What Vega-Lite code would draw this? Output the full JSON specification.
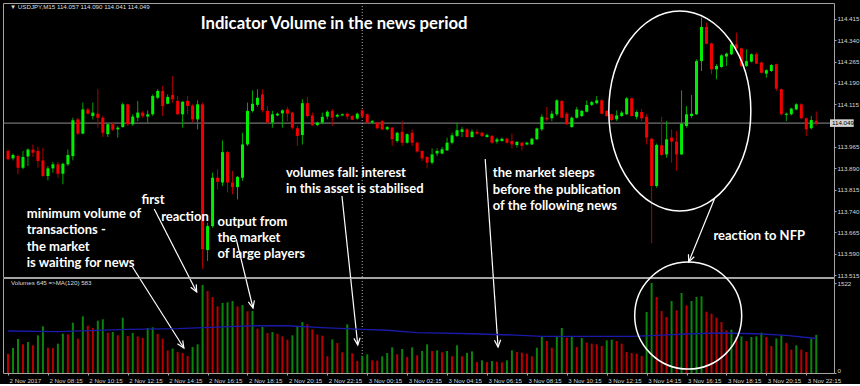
{
"$schema":"https://vega.github.io/schema/vega-lite/v6.json",
"background":"#000000",
"padding":{"left":2,"top":2,"right":0,"bottom":0},
"config":{"view":{"stroke":"#a4a4a4","strokeWidth":1,"fill":null},"concat":{"spacing":1}},
"spacing":1,
"bounds":"flush",
"datasets":{
"bars":[
{"t":"2017-11-02T06:15","o":113.951,"h":113.957,"l":113.918,"c":113.922,"v":327,"vd":"dn"},
{"t":"2017-11-02T06:30","o":113.925,"h":113.942,"l":113.918,"c":113.937,"v":423,"vd":"up"},
{"t":"2017-11-02T06:45","o":113.933,"h":113.939,"l":113.869,"c":113.892,"v":575,"vd":"up"},
{"t":"2017-11-02T07:00","o":113.892,"h":113.951,"l":113.887,"c":113.930,"v":485,"vd":"dn"},
{"t":"2017-11-02T07:15","o":113.932,"h":113.960,"l":113.898,"c":113.956,"v":524,"vd":"up"},
{"t":"2017-11-02T07:30","o":113.956,"h":113.974,"l":113.930,"c":113.945,"v":468,"vd":"dn"},
{"t":"2017-11-02T07:45","o":113.951,"h":113.965,"l":113.892,"c":113.916,"v":637,"vd":"up"},
{"t":"2017-11-02T08:00","o":113.918,"h":113.963,"l":113.860,"c":113.863,"v":789,"vd":"up"},
{"t":"2017-11-02T08:15","o":113.863,"h":113.898,"l":113.848,"c":113.890,"v":428,"vd":"dn"},
{"t":"2017-11-02T08:30","o":113.890,"h":113.913,"l":113.875,"c":113.904,"v":420,"vd":"dn"},
{"t":"2017-11-02T08:45","o":113.904,"h":113.913,"l":113.857,"c":113.871,"v":496,"vd":"up"},
{"t":"2017-11-02T09:00","o":113.871,"h":113.910,"l":113.834,"c":113.906,"v":665,"vd":"up"},
{"t":"2017-11-02T09:15","o":113.904,"h":113.956,"l":113.898,"c":113.937,"v":654,"vd":"dn"},
{"t":"2017-11-02T09:30","o":113.933,"h":114.068,"l":113.918,"c":114.059,"v":851,"vd":"up"},
{"t":"2017-11-02T09:45","o":114.062,"h":114.068,"l":114.007,"c":114.012,"v":581,"vd":"dn"},
{"t":"2017-11-02T10:00","o":114.012,"h":114.121,"l":114.010,"c":114.097,"v":958,"vd":"up"},
{"t":"2017-11-02T10:15","o":114.097,"h":114.103,"l":114.080,"c":114.082,"v":800,"vd":"dn"},
{"t":"2017-11-02T10:30","o":114.074,"h":114.121,"l":114.062,"c":114.086,"v":761,"vd":"dn"},
{"t":"2017-11-02T10:45","o":114.082,"h":114.168,"l":114.033,"c":114.068,"v":885,"vd":"up"},
{"t":"2017-11-02T11:00","o":114.068,"h":114.074,"l":114.000,"c":114.015,"v":908,"vd":"up"},
{"t":"2017-11-02T11:15","o":114.010,"h":114.051,"l":114.000,"c":114.045,"v":682,"vd":"dn"},
{"t":"2017-11-02T11:30","o":114.045,"h":114.051,"l":114.021,"c":114.026,"v":693,"vd":"up"},
{"t":"2017-11-02T11:45","o":114.027,"h":114.039,"l":113.998,"c":114.033,"v":637,"vd":"dn"},
{"t":"2017-11-02T12:00","o":114.035,"h":114.121,"l":114.033,"c":114.115,"v":936,"vd":"up"},
{"t":"2017-11-02T12:15","o":114.115,"h":114.117,"l":114.039,"c":114.045,"v":626,"vd":"dn"},
{"t":"2017-11-02T12:30","o":114.045,"h":114.080,"l":114.039,"c":114.072,"v":676,"vd":"up"},
{"t":"2017-11-02T12:45","o":114.068,"h":114.127,"l":114.056,"c":114.086,"v":620,"vd":"dn"},
{"t":"2017-11-02T13:00","o":114.086,"h":114.092,"l":114.068,"c":114.074,"v":592,"vd":"dn"},
{"t":"2017-11-02T13:15","o":114.072,"h":114.094,"l":114.051,"c":114.080,"v":761,"vd":"up"},
{"t":"2017-11-02T13:30","o":114.080,"h":114.150,"l":114.074,"c":114.144,"v":772,"vd":"up"},
{"t":"2017-11-02T13:45","o":114.138,"h":114.168,"l":114.133,"c":114.162,"v":660,"vd":"dn"},
{"t":"2017-11-02T14:00","o":114.162,"h":114.180,"l":114.074,"c":114.109,"v":581,"vd":"dn"},
{"t":"2017-11-02T14:15","o":114.117,"h":114.150,"l":114.115,"c":114.141,"v":383,"vd":"dn"},
{"t":"2017-11-02T14:30","o":114.148,"h":114.215,"l":114.121,"c":114.133,"v":412,"vd":"up"},
{"t":"2017-11-02T14:45","o":114.127,"h":114.144,"l":114.078,"c":114.080,"v":355,"vd":"dn"},
{"t":"2017-11-02T15:00","o":114.080,"h":114.127,"l":114.033,"c":114.124,"v":338,"vd":"dn"},
{"t":"2017-11-02T15:15","o":114.127,"h":114.144,"l":114.080,"c":114.109,"v":287,"vd":"dn"},
{"t":"2017-11-02T15:30","o":114.111,"h":114.115,"l":114.051,"c":114.062,"v":440,"vd":"up"},
{"t":"2017-11-02T15:45","o":114.062,"h":114.129,"l":114.027,"c":114.115,"v":485,"vd":"up"},
{"t":"2017-11-02T16:00","o":114.115,"h":114.121,"l":113.536,"c":113.606,"v":1488,"vd":"up"},
{"t":"2017-11-02T16:15","o":113.603,"h":113.699,"l":113.564,"c":113.687,"v":1387,"vd":"dn"},
{"t":"2017-11-02T16:30","o":113.687,"h":113.875,"l":113.681,"c":113.857,"v":1285,"vd":"dn"},
{"t":"2017-11-02T16:45","o":113.857,"h":113.887,"l":113.816,"c":113.843,"v":1127,"vd":"dn"},
{"t":"2017-11-02T17:00","o":113.840,"h":113.988,"l":113.828,"c":113.947,"v":1184,"vd":"up"},
{"t":"2017-11-02T17:15","o":113.947,"h":113.951,"l":113.805,"c":113.840,"v":1195,"vd":"up"},
{"t":"2017-11-02T17:30","o":113.840,"h":113.881,"l":113.799,"c":113.824,"v":1218,"vd":"up"},
{"t":"2017-11-02T17:45","o":113.824,"h":113.863,"l":113.781,"c":113.860,"v":1127,"vd":"dn"},
{"t":"2017-11-02T18:00","o":113.857,"h":114.015,"l":113.846,"c":113.974,"v":1150,"vd":"up"},
{"t":"2017-11-02T18:15","o":113.974,"h":114.121,"l":113.969,"c":114.092,"v":1043,"vd":"dn"},
{"t":"2017-11-02T18:30","o":114.092,"h":114.164,"l":114.086,"c":114.117,"v":1048,"vd":"up"},
{"t":"2017-11-02T18:45","o":114.113,"h":114.168,"l":114.106,"c":114.138,"v":750,"vd":"dn"},
{"t":"2017-11-02T19:00","o":114.150,"h":114.168,"l":114.086,"c":114.094,"v":778,"vd":"up"},
{"t":"2017-11-02T19:15","o":114.092,"h":114.109,"l":114.045,"c":114.051,"v":676,"vd":"dn"},
{"t":"2017-11-02T19:30","o":114.051,"h":114.092,"l":114.033,"c":114.080,"v":693,"vd":"up"},
{"t":"2017-11-02T19:45","o":114.076,"h":114.086,"l":114.073,"c":114.082,"v":665,"vd":"dn"},
{"t":"2017-11-02T20:00","o":114.083,"h":114.097,"l":114.033,"c":114.094,"v":620,"vd":"dn"},
{"t":"2017-11-02T20:15","o":114.097,"h":114.106,"l":114.056,"c":114.082,"v":564,"vd":"dn"},
{"t":"2017-11-02T20:30","o":114.086,"h":114.089,"l":114.027,"c":114.033,"v":637,"vd":"up"},
{"t":"2017-11-02T20:45","o":114.031,"h":114.039,"l":113.969,"c":114.004,"v":778,"vd":"up"},
{"t":"2017-11-02T21:00","o":114.007,"h":114.133,"l":113.974,"c":114.119,"v":862,"vd":"up"},
{"t":"2017-11-02T21:15","o":114.119,"h":114.141,"l":114.068,"c":114.074,"v":823,"vd":"dn"},
{"t":"2017-11-02T21:30","o":114.076,"h":114.086,"l":114.039,"c":114.042,"v":738,"vd":"dn"},
{"t":"2017-11-02T21:45","o":114.042,"h":114.054,"l":114.039,"c":114.051,"v":654,"vd":"dn"},
{"t":"2017-11-02T22:00","o":114.051,"h":114.086,"l":114.045,"c":114.071,"v":631,"vd":"dn"},
{"t":"2017-11-02T22:15","o":114.072,"h":114.094,"l":114.062,"c":114.089,"v":282,"vd":"dn"},
{"t":"2017-11-02T22:30","o":114.092,"h":114.099,"l":114.039,"c":114.068,"v":569,"vd":"up"},
{"t":"2017-11-02T22:45","o":114.072,"h":114.082,"l":114.068,"c":114.078,"v":507,"vd":"dn"},
{"t":"2017-11-02T23:00","o":114.076,"h":114.083,"l":114.073,"c":114.080,"v":349,"vd":"dn"},
{"t":"2017-11-02T23:15","o":114.082,"h":114.086,"l":114.062,"c":114.072,"v":823,"vd":"up"},
{"t":"2017-11-02T23:30","o":114.074,"h":114.078,"l":114.059,"c":114.061,"v":333,"vd":"dn"},
{"t":"2017-11-02T23:45","o":114.065,"h":114.086,"l":114.061,"c":114.082,"v":203,"vd":"dn"},
{"t":"2017-11-03T00:00","o":114.094,"h":114.097,"l":114.068,"c":114.072,"v":293,"vd":"up"},
{"t":"2017-11-03T00:15","o":114.080,"h":114.083,"l":114.047,"c":114.051,"v":316,"vd":"up"},
{"t":"2017-11-03T00:30","o":114.051,"h":114.060,"l":114.047,"c":114.056,"v":214,"vd":"dn"},
{"t":"2017-11-03T00:45","o":114.051,"h":114.054,"l":114.027,"c":114.031,"v":209,"vd":"dn"},
{"t":"2017-11-03T01:00","o":114.056,"h":114.060,"l":114.024,"c":114.027,"v":282,"vd":"up"},
{"t":"2017-11-03T01:15","o":114.027,"h":114.039,"l":114.024,"c":114.035,"v":338,"vd":"up"},
{"t":"2017-11-03T01:30","o":114.033,"h":114.035,"l":113.969,"c":113.992,"v":434,"vd":"up"},
{"t":"2017-11-03T01:45","o":113.986,"h":114.019,"l":113.980,"c":114.015,"v":316,"vd":"dn"},
{"t":"2017-11-03T02:00","o":114.018,"h":114.056,"l":113.969,"c":113.980,"v":406,"vd":"up"},
{"t":"2017-11-03T02:15","o":113.980,"h":114.013,"l":113.977,"c":114.010,"v":271,"vd":"dn"},
{"t":"2017-11-03T02:30","o":114.015,"h":114.027,"l":113.969,"c":113.980,"v":434,"vd":"up"},
{"t":"2017-11-03T02:45","o":113.980,"h":113.984,"l":113.945,"c":113.949,"v":299,"vd":"dn"},
{"t":"2017-11-03T03:00","o":113.951,"h":113.953,"l":113.916,"c":113.925,"v":372,"vd":"up"},
{"t":"2017-11-03T03:15","o":113.930,"h":113.933,"l":113.890,"c":113.910,"v":485,"vd":"up"},
{"t":"2017-11-03T03:30","o":113.910,"h":113.960,"l":113.904,"c":113.939,"v":372,"vd":"dn"},
{"t":"2017-11-03T03:45","o":113.942,"h":113.960,"l":113.933,"c":113.951,"v":383,"vd":"up"},
{"t":"2017-11-03T04:00","o":113.942,"h":113.965,"l":113.939,"c":113.957,"v":349,"vd":"dn"},
{"t":"2017-11-03T04:15","o":113.953,"h":113.998,"l":113.951,"c":113.980,"v":372,"vd":"up"},
{"t":"2017-11-03T04:30","o":113.980,"h":114.015,"l":113.974,"c":114.006,"v":282,"vd":"dn"},
{"t":"2017-11-03T04:45","o":114.004,"h":114.051,"l":114.000,"c":114.024,"v":468,"vd":"up"},
{"t":"2017-11-03T05:00","o":114.018,"h":114.035,"l":114.000,"c":114.027,"v":282,"vd":"dn"},
{"t":"2017-11-03T05:15","o":114.027,"h":114.031,"l":113.998,"c":114.000,"v":338,"vd":"up"},
{"t":"2017-11-03T05:30","o":114.000,"h":114.027,"l":113.998,"c":114.019,"v":366,"vd":"up"},
{"t":"2017-11-03T05:45","o":114.018,"h":114.027,"l":114.007,"c":114.012,"v":186,"vd":"dn"},
{"t":"2017-11-03T06:00","o":114.015,"h":114.019,"l":114.000,"c":114.004,"v":214,"vd":"up"},
{"t":"2017-11-03T06:15","o":114.000,"h":114.012,"l":113.998,"c":114.007,"v":186,"vd":"dn"},
{"t":"2017-11-03T06:30","o":114.004,"h":114.007,"l":113.977,"c":113.980,"v":203,"vd":"up"},
{"t":"2017-11-03T06:45","o":113.984,"h":113.998,"l":113.977,"c":113.992,"v":192,"vd":"dn"},
{"t":"2017-11-03T07:00","o":113.986,"h":113.998,"l":113.984,"c":113.994,"v":180,"vd":"dn"},
{"t":"2017-11-03T07:15","o":113.994,"h":113.998,"l":113.977,"c":113.980,"v":214,"vd":"up"},
{"t":"2017-11-03T07:30","o":113.986,"h":114.012,"l":113.960,"c":113.974,"v":383,"vd":"up"},
{"t":"2017-11-03T07:45","o":113.972,"h":113.986,"l":113.963,"c":113.983,"v":355,"vd":"dn"},
{"t":"2017-11-03T08:00","o":113.980,"h":113.984,"l":113.953,"c":113.969,"v":344,"vd":"dn"},
{"t":"2017-11-03T08:15","o":113.974,"h":113.984,"l":113.971,"c":113.980,"v":327,"vd":"dn"},
{"t":"2017-11-03T08:30","o":113.974,"h":113.998,"l":113.972,"c":113.994,"v":282,"vd":"dn"},
{"t":"2017-11-03T08:45","o":113.992,"h":114.033,"l":113.990,"c":114.030,"v":428,"vd":"up"},
{"t":"2017-11-03T09:00","o":114.027,"h":114.080,"l":114.021,"c":114.071,"v":620,"vd":"up"},
{"t":"2017-11-03T09:15","o":114.068,"h":114.106,"l":114.056,"c":114.062,"v":541,"vd":"dn"},
{"t":"2017-11-03T09:30","o":114.066,"h":114.092,"l":114.056,"c":114.082,"v":428,"vd":"dn"},
{"t":"2017-11-03T09:45","o":114.080,"h":114.133,"l":114.074,"c":114.129,"v":609,"vd":"up"},
{"t":"2017-11-03T10:00","o":114.127,"h":114.129,"l":114.066,"c":114.068,"v":761,"vd":"up"},
{"t":"2017-11-03T10:15","o":114.082,"h":114.089,"l":114.042,"c":114.045,"v":598,"vd":"dn"},
{"t":"2017-11-03T10:30","o":114.035,"h":114.072,"l":114.033,"c":114.068,"v":609,"vd":"up"},
{"t":"2017-11-03T10:45","o":114.068,"h":114.106,"l":114.065,"c":114.097,"v":440,"vd":"dn"},
{"t":"2017-11-03T11:00","o":114.074,"h":114.095,"l":114.070,"c":114.092,"v":592,"vd":"up"},
{"t":"2017-11-03T11:15","o":114.089,"h":114.129,"l":114.086,"c":114.113,"v":513,"vd":"dn"},
{"t":"2017-11-03T11:30","o":114.113,"h":114.127,"l":114.109,"c":114.123,"v":496,"vd":"dn"},
{"t":"2017-11-03T11:45","o":114.119,"h":114.144,"l":114.115,"c":114.129,"v":485,"vd":"dn"},
{"t":"2017-11-03T12:00","o":114.129,"h":114.133,"l":114.080,"c":114.082,"v":457,"vd":"dn"},
{"t":"2017-11-03T12:15","o":114.092,"h":114.094,"l":114.072,"c":114.074,"v":552,"vd":"up"},
{"t":"2017-11-03T12:30","o":114.080,"h":114.082,"l":114.056,"c":114.060,"v":564,"vd":"up"},
{"t":"2017-11-03T12:45","o":114.062,"h":114.094,"l":114.056,"c":114.076,"v":541,"vd":"dn"},
{"t":"2017-11-03T13:00","o":114.074,"h":114.092,"l":114.071,"c":114.086,"v":496,"vd":"dn"},
{"t":"2017-11-03T13:15","o":114.080,"h":114.141,"l":114.078,"c":114.136,"v":355,"vd":"dn"},
{"t":"2017-11-03T13:30","o":114.136,"h":114.138,"l":114.072,"c":114.074,"v":338,"vd":"dn"},
{"t":"2017-11-03T13:45","o":114.071,"h":114.094,"l":114.062,"c":114.088,"v":327,"vd":"dn"},
{"t":"2017-11-03T14:00","o":114.088,"h":114.099,"l":114.056,"c":114.066,"v":287,"vd":"dn"},
{"t":"2017-11-03T14:15","o":114.071,"h":114.080,"l":113.974,"c":113.998,"v":1032,"vd":"up"},
{"t":"2017-11-03T14:30","o":113.994,"h":113.998,"l":113.627,"c":113.828,"v":1522,"vd":"up"},
{"t":"2017-11-03T14:45","o":113.828,"h":113.977,"l":113.822,"c":113.972,"v":1285,"vd":"dn"},
{"t":"2017-11-03T15:00","o":113.971,"h":114.071,"l":113.933,"c":113.937,"v":1048,"vd":"dn"},
{"t":"2017-11-03T15:15","o":113.939,"h":114.056,"l":113.927,"c":113.992,"v":947,"vd":"dn"},
{"t":"2017-11-03T15:30","o":113.998,"h":114.027,"l":113.910,"c":113.984,"v":1218,"vd":"up"},
{"t":"2017-11-03T15:45","o":113.984,"h":114.021,"l":113.881,"c":113.939,"v":1060,"vd":"dn"},
{"t":"2017-11-03T16:00","o":113.939,"h":114.164,"l":113.937,"c":114.047,"v":1353,"vd":"up"},
{"t":"2017-11-03T16:15","o":114.039,"h":114.109,"l":114.033,"c":114.080,"v":1144,"vd":"dn"},
{"t":"2017-11-03T16:30","o":114.074,"h":114.148,"l":114.068,"c":114.082,"v":1218,"vd":"up"},
{"t":"2017-11-03T16:45","o":114.080,"h":114.273,"l":114.078,"c":114.267,"v":1285,"vd":"up"},
{"t":"2017-11-03T17:00","o":114.267,"h":114.420,"l":114.232,"c":114.387,"v":1297,"vd":"up"},
{"t":"2017-11-03T17:15","o":114.387,"h":114.402,"l":114.326,"c":114.328,"v":1037,"vd":"dn"},
{"t":"2017-11-03T17:30","o":114.329,"h":114.332,"l":114.221,"c":114.238,"v":1003,"vd":"dn"},
{"t":"2017-11-03T17:45","o":114.238,"h":114.256,"l":114.203,"c":114.250,"v":936,"vd":"dn"},
{"t":"2017-11-03T18:00","o":114.246,"h":114.291,"l":114.244,"c":114.287,"v":862,"vd":"dn"},
{"t":"2017-11-03T18:15","o":114.283,"h":114.297,"l":114.250,"c":114.293,"v":722,"vd":"dn"},
{"t":"2017-11-03T18:30","o":114.291,"h":114.332,"l":114.288,"c":114.326,"v":733,"vd":"up"},
{"t":"2017-11-03T18:45","o":114.326,"h":114.367,"l":114.308,"c":114.312,"v":609,"vd":"dn"},
{"t":"2017-11-03T19:00","o":114.312,"h":114.314,"l":114.246,"c":114.250,"v":620,"vd":"up"},
{"t":"2017-11-03T19:15","o":114.250,"h":114.308,"l":114.246,"c":114.267,"v":541,"vd":"dn"},
{"t":"2017-11-03T19:30","o":114.265,"h":114.294,"l":114.262,"c":114.291,"v":609,"vd":"up"},
{"t":"2017-11-03T19:45","o":114.291,"h":114.297,"l":114.256,"c":114.258,"v":620,"vd":"up"},
{"t":"2017-11-03T20:00","o":114.262,"h":114.265,"l":114.223,"c":114.226,"v":682,"vd":"up"},
{"t":"2017-11-03T20:15","o":114.223,"h":114.238,"l":114.209,"c":114.235,"v":609,"vd":"dn"},
{"t":"2017-11-03T20:30","o":114.232,"h":114.257,"l":114.229,"c":114.253,"v":457,"vd":"dn"},
{"t":"2017-11-03T20:45","o":114.256,"h":114.258,"l":114.162,"c":114.170,"v":586,"vd":"up"},
{"t":"2017-11-03T21:00","o":114.168,"h":114.171,"l":114.076,"c":114.080,"v":637,"vd":"up"},
{"t":"2017-11-03T21:15","o":114.078,"h":114.086,"l":114.056,"c":114.082,"v":507,"vd":"dn"},
{"t":"2017-11-03T21:30","o":114.080,"h":114.103,"l":114.076,"c":114.100,"v":395,"vd":"dn"},
{"t":"2017-11-03T21:45","o":114.097,"h":114.119,"l":114.094,"c":114.115,"v":468,"vd":"up"},
{"t":"2017-11-03T22:00","o":114.115,"h":114.119,"l":114.062,"c":114.066,"v":395,"vd":"dn"},
{"t":"2017-11-03T22:15","o":114.066,"h":114.068,"l":114.004,"c":114.027,"v":355,"vd":"dn"},
{"t":"2017-11-03T22:30","o":114.031,"h":114.074,"l":114.027,"c":114.060,"v":581,"vd":"up"},
{"t":"2017-11-03T22:45","o":114.057,"h":114.090,"l":114.041,"c":114.049,"v":645,"vd":"up"}
],
"ma":[
{"t":"2017-11-02T06:15","ma":710},{"t":"2017-11-02T08:45","ma":699},{"t":"2017-11-02T12:15","ma":738},
{"t":"2017-11-02T14:45","ma":750},{"t":"2017-11-02T16:00","ma":767},{"t":"2017-11-02T18:30","ma":800},
{"t":"2017-11-02T20:15","ma":800},{"t":"2017-11-02T22:00","ma":767},{"t":"2017-11-03T00:00","ma":738},
{"t":"2017-11-03T01:15","ma":722},{"t":"2017-11-03T02:45","ma":682},{"t":"2017-11-03T05:30","ma":665},
{"t":"2017-11-03T08:00","ma":637},{"t":"2017-11-03T09:00","ma":620},{"t":"2017-11-03T13:30","ma":620},
{"t":"2017-11-03T14:45","ma":637},{"t":"2017-11-03T16:30","ma":665},{"t":"2017-11-03T18:00","ma":676},
{"t":"2017-11-03T19:45","ma":665},{"t":"2017-11-03T21:15","ma":637},{"t":"2017-11-03T22:45","ma":583}
]
},
"vconcat":[
{
"width":831,"height":274,
"layer":[
{"data":{"values":[{}]},"mark":{"type":"rule","color":"#8e8e8e","strokeWidth":1},
 "encoding":{"y":{"datum":114.049,"type":"quantitative","title":null}}},
{"data":{"values":[{}]},"mark":{"type":"rule","color":"#b4b4b4","strokeWidth":1,"strokeDash":[1,2]},
 "encoding":{"x":{"datum":{"year":2017,"month":11,"date":3,"hours":0,"minutes":0},"type":"temporal","axis":null}}},
{"data":{"name":"bars"},"mark":{"type":"rule","strokeWidth":1,"clip":true},
 "encoding":{
  "x":{"field":"t","type":"temporal","axis":null,"scale":{"domain":[{"year":2017,"month":11,"date":2,"hours":6,"minutes":15},{"year":2017,"month":11,"date":3,"hours":23,"minutes":23,"seconds":18}],"nice":false}},
  "y":{"field":"l","type":"quantitative","title":null,"scale":{"domain":[113.508,114.4712],"nice":false,"zero":false},
   "axis":{"orient":"right","title":null,"grid":false,"domain":false,"tickCount":40,"values":[113.515,113.59,113.665,113.74,113.815,113.89,113.965,114.115,114.19,114.265,114.34,114.415],"format":".3f","tickSize":2,"tickColor":"#a4a4a4","labelColor":"#d6d6d6","labelFont":"Liberation Sans","labelFontSize":6.2,"labelPadding":1,"labelOverlap":false,"labelBound":false,"labelFlush":false}},
  "y2":{"field":"h"},
  "color":{"condition":{"test":"datum.c > datum.o","value":"#00a800"},"value":"#b00000"}
 }},
{"data":{"name":"bars"},"mark":{"type":"bar","size":3,"clip":true},
 "encoding":{
  "x":{"field":"t","type":"temporal","axis":null},
  "y":{"field":"o","type":"quantitative","title":null},
  "y2":{"field":"c"},
  "color":{"condition":{"test":"datum.c > datum.o","value":"#00ee00"},"value":"#f20000"}
 }},
{"data":{"values":[{}]},"mark":{"type":"point","shape":"M0.1,-0.38H2.47V0.38H0.1Z","size":400,"filled":true,"color":"#d4d4d4","opacity":1,"strokeWidth":0},
 "encoding":{"x":{"datum":{"year":2017,"month":11,"date":3,"hours":23,"minutes":23,"seconds":18},"type":"temporal","axis":null},"y":{"datum":114.049,"type":"quantitative","title":null}}},
{"data":{"values":[{}]},"mark":{"type":"text","align":"left","baseline":"middle","dx":3,"font":"Liberation Sans","fontSize":6.2,"color":"#000000"},
 "encoding":{"x":{"datum":{"year":2017,"month":11,"date":3,"hours":23,"minutes":23,"seconds":18},"type":"temporal","axis":null},"y":{"datum":114.049,"type":"quantitative","title":null},"text":{"value":"114.049"}}},
{"data":{"values":[{}]},"mark":{"type":"text","align":"left","baseline":"middle","font":"Liberation Sans","fontSize":6.2,"color":"#dedede"},
 "encoding":{"x":{"datum":{"year":2017,"month":11,"date":2,"hours":6,"minutes":21},"type":"temporal","axis":null},"y":{"datum":114.4572,"type":"quantitative","title":null},"text":{"value":"▼  USDJPY,M15  114.057 114.090 114.041 114.049"}}},
{"data":{"values":[{}]},"mark":{"type":"text","align":"left","baseline":"alphabetic","font":"Lato","fontWeight":"bold","fontSize":16.7,"color":"#ffffff"},
 "encoding":{"x":{"datum":{"year":2017,"month":11,"date":2,"hours":15,"minutes":54,"seconds":12},"type":"temporal","axis":null},"y":{"datum":114.3788,"type":"quantitative","title":null},"text":{"value":"Indicator Volume in the news period"}}},
{"data":{"values":[{}]},"mark":{"type":"text","align":"left","baseline":"alphabetic","font":"Lato","fontWeight":"bold","fontSize":13,"lineHeight":16.4,"color":"#ffffff"},
 "encoding":{"x":{"datum":{"year":2017,"month":11,"date":2,"hours":7,"minutes":11,"seconds":26},"type":"temporal","axis":null},"y":{"datum":113.7154,"type":"quantitative","title":null},"text":{"value":["minimum volume of","transactions -","the market","is waiting for news"]}}},
{"data":{"values":[{}]},"mark":{"type":"text","align":"left","baseline":"alphabetic","font":"Lato","fontWeight":"bold","fontSize":13,"color":"#ffffff"},
 "encoding":{"x":{"datum":{"year":2017,"month":11,"date":2,"hours":12,"minutes":56},"type":"temporal","axis":null},"y":{"datum":113.7646,"type":"quantitative","title":null},"text":{"value":"first"}}},
{"data":{"values":[{}]},"mark":{"type":"text","align":"left","baseline":"alphabetic","font":"Lato","fontWeight":"bold","fontSize":13,"color":"#ffffff"},
 "encoding":{"x":{"datum":{"year":2017,"month":11,"date":2,"hours":13,"minutes":55,"seconds":24},"type":"temporal","axis":null},"y":{"datum":113.7048,"type":"quantitative","title":null},"text":{"value":"reaction"}}},
{"data":{"values":[{}]},"mark":{"type":"text","align":"left","baseline":"alphabetic","font":"Lato","fontWeight":"bold","fontSize":13,"lineHeight":16.2,"color":"#ffffff"},
 "encoding":{"x":{"datum":{"year":2017,"month":11,"date":2,"hours":16,"minutes":44,"seconds":42},"type":"temporal","axis":null},"y":{"datum":113.6883,"type":"quantitative","title":null},"text":{"value":["output from","the market","of large players"]}}},
{"data":{"values":[{}]},"mark":{"type":"text","align":"left","baseline":"alphabetic","font":"Lato","fontWeight":"bold","fontSize":13,"lineHeight":16,"color":"#ffffff"},
 "encoding":{"x":{"datum":{"year":2017,"month":11,"date":2,"hours":20,"minutes":10,"seconds":36},"type":"temporal","axis":null},"y":{"datum":113.8606,"type":"quantitative","title":null},"text":{"value":["volumes fall: interest","in this asset is stabilised"]}}},
{"data":{"values":[{}]},"mark":{"type":"text","align":"left","baseline":"alphabetic","font":"Lato","fontWeight":"bold","fontSize":13,"lineHeight":16.4,"color":"#ffffff"},
 "encoding":{"x":{"datum":{"year":2017,"month":11,"date":3,"hours":6,"minutes":32,"seconds":30},"type":"temporal","axis":null},"y":{"datum":113.8585,"type":"quantitative","title":null},"text":{"value":["the market sleeps","before the publication","of the following news"]}}},
{"data":{"values":[{}]},"mark":{"type":"text","align":"left","baseline":"alphabetic","font":"Lato","fontWeight":"bold","fontSize":13,"color":"#ffffff"},
 "encoding":{"x":{"datum":{"year":2017,"month":11,"date":3,"hours":17,"minutes":35,"seconds":48},"type":"temporal","axis":null},"y":{"datum":113.638,"type":"quantitative","title":null},"text":{"value":"reaction to NFP"}}},
{"data":{"values":[{}]},"mark":{"type":"point","shape":"M-0.71,0A0.71,1,0,1,0,0.71,0A0.71,1,0,1,0,-0.71,0Z","size":40000,"filled":false,"color":"#ffffff","opacity":1,"strokeWidth":1.5},
 "encoding":{"x":{"datum":{"year":2017,"month":11,"date":3,"hours":15,"minutes":54,"seconds":48},"type":"temporal","axis":null},"y":{"datum":114.0916,"type":"quantitative","title":null}}},
{"data":{"values":[{}]},"mark":{"type":"rule","color":"#ffffff","strokeWidth":1.2},
 "encoding":{"x":{"datum":{"year":2017,"month":11,"date":2,"hours":12,"minutes":29,"seconds":18},"type":"temporal","axis":null},"y":{"datum":113.5431,"type":"quantitative","title":null},"x2":{"datum":{"year":2017,"month":11,"date":2,"hours":15,"minutes":3,"seconds":42}},"y2":{"datum":113.2584}}},
{"data":{"values":[{}]},"mark":{"type":"point","shape":"M-0.45,-1L0,0L0.45,-1","size":196,"angle":-32.7,"filled":false,"color":"#ffffff","opacity":1,"strokeWidth":1.2},
 "encoding":{"x":{"datum":{"year":2017,"month":11,"date":2,"hours":15,"minutes":3,"seconds":42},"type":"temporal","axis":null},"y":{"datum":113.2584,"type":"quantitative","title":null}}},
{"data":{"values":[{}]},"mark":{"type":"rule","color":"#ffffff","strokeWidth":1.2},
 "encoding":{"x":{"datum":{"year":2017,"month":11,"date":2,"hours":13,"minutes":34,"seconds":36},"type":"temporal","axis":null},"y":{"datum":113.747,"type":"quantitative","title":null},"x2":{"datum":{"year":2017,"month":11,"date":2,"hours":15,"minutes":42,"seconds":18}},"y2":{"datum":113.4552}}},
{"data":{"values":[{}]},"mark":{"type":"point","shape":"M-0.45,-1L0,0L0.45,-1","size":196,"angle":-27.4,"filled":false,"color":"#ffffff","opacity":1,"strokeWidth":1.2},
 "encoding":{"x":{"datum":{"year":2017,"month":11,"date":2,"hours":15,"minutes":42,"seconds":18},"type":"temporal","axis":null},"y":{"datum":113.4552,"type":"quantitative","title":null}}},
{"data":{"values":[{}]},"mark":{"type":"rule","color":"#ffffff","strokeWidth":1.2},
 "encoding":{"x":{"datum":{"year":2017,"month":11,"date":2,"hours":17,"minutes":41,"seconds":6},"type":"temporal","axis":null},"y":{"datum":113.6416,"type":"quantitative","title":null},"x2":{"datum":{"year":2017,"month":11,"date":2,"hours":18,"minutes":31,"seconds":36}},"y2":{"datum":113.399}}},
{"data":{"values":[{}]},"mark":{"type":"point","shape":"M-0.45,-1L0,0L0.45,-1","size":196,"angle":-13.8,"filled":false,"color":"#ffffff","opacity":1,"strokeWidth":1.2},
 "encoding":{"x":{"datum":{"year":2017,"month":11,"date":2,"hours":18,"minutes":31,"seconds":36},"type":"temporal","axis":null},"y":{"datum":113.399,"type":"quantitative","title":null}}},
{"data":{"values":[{}]},"mark":{"type":"rule","color":"#ffffff","strokeWidth":1.2},
 "encoding":{"x":{"datum":{"year":2017,"month":11,"date":2,"hours":22,"minutes":59},"type":"temporal","axis":null},"y":{"datum":113.7927,"type":"quantitative","title":null},"x2":{"datum":{"year":2017,"month":11,"date":2,"hours":23,"minutes":46,"seconds":30}},"y2":{"datum":113.2689}}},
{"data":{"values":[{}]},"mark":{"type":"point","shape":"M-0.45,-1L0,0L0.45,-1","size":196,"angle":-6.1,"filled":false,"color":"#ffffff","opacity":1,"strokeWidth":1.2},
 "encoding":{"x":{"datum":{"year":2017,"month":11,"date":2,"hours":23,"minutes":46,"seconds":30},"type":"temporal","axis":null},"y":{"datum":113.2689,"type":"quantitative","title":null}}},
{"data":{"values":[{}]},"mark":{"type":"rule","color":"#ffffff","strokeWidth":1.2},
 "encoding":{"x":{"datum":{"year":2017,"month":11,"date":3,"hours":6,"minutes":9,"seconds":42},"type":"temporal","axis":null},"y":{"datum":113.9228,"type":"quantitative","title":null},"x2":{"datum":{"year":2017,"month":11,"date":3,"hours":6,"minutes":48,"seconds":18}},"y2":{"datum":113.2619}}},
{"data":{"values":[{}]},"mark":{"type":"point","shape":"M-0.45,-1L0,0L0.45,-1","size":196,"angle":-4,"filled":false,"color":"#ffffff","opacity":1,"strokeWidth":1.2},
 "encoding":{"x":{"datum":{"year":2017,"month":11,"date":3,"hours":6,"minutes":48,"seconds":18},"type":"temporal","axis":null},"y":{"datum":113.2619,"type":"quantitative","title":null}}},
{"data":{"values":[{}]},"mark":{"type":"rule","color":"#ffffff","strokeWidth":1.2},
 "encoding":{"x":{"datum":{"year":2017,"month":11,"date":3,"hours":17,"minutes":38,"seconds":48},"type":"temporal","axis":null},"y":{"datum":113.7822,"type":"quantitative","title":null},"x2":{"datum":{"year":2017,"month":11,"date":3,"hours":16,"minutes":21,"seconds":30}},"y2":{"datum":113.5607}}},
{"data":{"values":[{}]},"mark":{"type":"point","shape":"M-0.45,-1L0,0L0.45,-1","size":196,"angle":22.4,"filled":false,"color":"#ffffff","opacity":1,"strokeWidth":1.2},
 "encoding":{"x":{"datum":{"year":2017,"month":11,"date":3,"hours":16,"minutes":21,"seconds":30},"type":"temporal","axis":null},"y":{"datum":113.5607,"type":"quantitative","title":null}}}
]
},
{
"width":831,"height":95,
"layer":[
{"data":{"values":[{}]},"mark":{"type":"rule","color":"#b4b4b4","strokeWidth":1,"strokeDash":[1,2]},
 "encoding":{"x":{"datum":{"year":2017,"month":11,"date":3,"hours":0,"minutes":0},"type":"temporal","title":null}}},
{"data":{"name":"bars"},"mark":{"type":"bar","size":2,"clip":true},
 "encoding":{
  "x":{"field":"t","type":"temporal","title":null,"scale":{"domain":[{"year":2017,"month":11,"date":2,"hours":6,"minutes":15},{"year":2017,"month":11,"date":3,"hours":23,"minutes":23,"seconds":18}],"nice":false},
   "axis":{"title":null,"grid":false,"domain":false,"tickCount":60,"values":[
    {"year":2017,"month":11,"date":2,"hours":6,"minutes":15},{"year":2017,"month":11,"date":2,"hours":8,"minutes":15},{"year":2017,"month":11,"date":2,"hours":10,"minutes":15},{"year":2017,"month":11,"date":2,"hours":12,"minutes":15},{"year":2017,"month":11,"date":2,"hours":14,"minutes":15},{"year":2017,"month":11,"date":2,"hours":16,"minutes":15},{"year":2017,"month":11,"date":2,"hours":18,"minutes":15},{"year":2017,"month":11,"date":2,"hours":20,"minutes":15},{"year":2017,"month":11,"date":2,"hours":22,"minutes":15},
    {"year":2017,"month":11,"date":3,"hours":0,"minutes":15},{"year":2017,"month":11,"date":3,"hours":2,"minutes":15},{"year":2017,"month":11,"date":3,"hours":4,"minutes":15},{"year":2017,"month":11,"date":3,"hours":6,"minutes":15},{"year":2017,"month":11,"date":3,"hours":8,"minutes":15},{"year":2017,"month":11,"date":3,"hours":10,"minutes":15},{"year":2017,"month":11,"date":3,"hours":12,"minutes":15},{"year":2017,"month":11,"date":3,"hours":14,"minutes":15},{"year":2017,"month":11,"date":3,"hours":16,"minutes":15},{"year":2017,"month":11,"date":3,"hours":18,"minutes":15},{"year":2017,"month":11,"date":3,"hours":20,"minutes":15},{"year":2017,"month":11,"date":3,"hours":22,"minutes":15}],
    "labelExpr":"datum.index == 0 ? '2 Nov 2017' : timeFormat(datum.value, '%-d %b %H:%M')",
    "tickSize":2,"tickColor":"#a4a4a4","labelColor":"#d6d6d6","labelFont":"Liberation Sans","labelFontSize":6.2,"labelAlign":"left","labelBaseline":"top","labelPadding":2,"labelOffset":1,"labelOverlap":false,"labelFlush":false,"labelBound":false}},
  "y":{"field":"v","type":"quantitative","title":null,"stack":null,"scale":{"domain":[0,1606.6],"nice":false,"zero":true},
   "axis":{"orient":"right","title":null,"grid":false,"domain":false,"tickCount":10,"values":[0,1522],"format":"d","tickSize":2,"tickColor":"#a4a4a4","labelColor":"#d6d6d6","labelFont":"Liberation Sans","labelFontSize":6.2,"labelPadding":1,"labelFlush":1,"labelOverlap":false,"labelBound":false}},
  "color":{"condition":{"test":"datum.vd == 'up'","value":"#0a840a"},"value":"#b80000"}
 }},
{"data":{"name":"ma"},"mark":{"type":"line","color":"#1a1aa8","strokeWidth":1.4},
 "encoding":{"x":{"field":"t","type":"temporal","title":null},"y":{"field":"ma","type":"quantitative","title":null}}},
{"data":{"values":[{}]},"mark":{"type":"point","shape":"circle","size":11449,"filled":false,"color":"#ffffff","opacity":1,"strokeWidth":1.5},
 "encoding":{"x":{"datum":{"year":2017,"month":11,"date":3,"hours":16,"minutes":20},"type":"temporal","title":null},"y":{"datum":972,"type":"quantitative","title":null}}},
{"data":{"values":[{}]},"mark":{"type":"text","align":"left","baseline":"middle","font":"Liberation Sans","fontSize":6.2,"color":"#dedede"},
 "encoding":{"x":{"datum":{"year":2017,"month":11,"date":2,"hours":6,"minutes":24},"type":"temporal","title":null},"y":{"datum":1522,"type":"quantitative","title":null},"text":{"value":"Volumes 645  =>MA(120) 583"}}}
]
}
]
}
